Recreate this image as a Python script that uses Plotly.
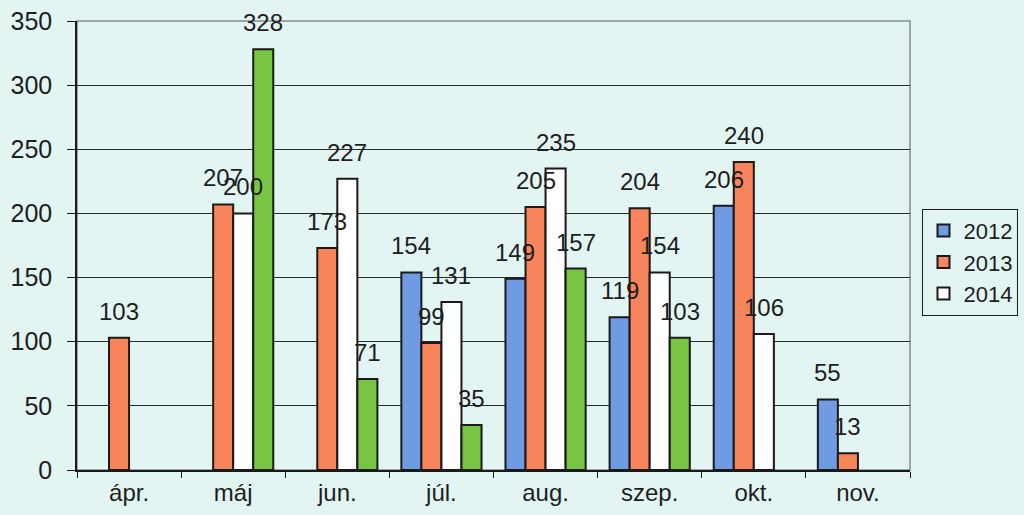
import plotly.graph_objects as go

months = ["ápr.", "máj", "jun.", "júl.", "aug.", "szep.", "okt.", "nov."]
v2012 = [None, None, None, 154, 149, 119, 206, 55]
v2013 = [103, 207, 173, 99, 205, 204, 240, 13]
v2014 = [None, 200, 227, 131, 235, 154, 106, None]
v2015 = [None, 328, 71, 35, 157, 103, None, None]

series = [
    ("2012", v2012, "#6f9be3", True),
    ("2013", v2013, "#f7845a", True),
    ("2014", v2014, "#ffffff", True),
    ("2015", v2015, "#78c544", False),
]

FONT = "Liberation Sans, Arial, sans-serif"
W, H = 1024, 515
ML, MR, MT, MB = 77, 114, 21, 45
BARGAP = 0.23

fig = go.Figure()
for name, vals, color, show in series:
    fig.add_trace(go.Bar(
        name=name, x=months, y=vals,
        marker=dict(color=color, line=dict(color="#1a1a1a", width=2)),
        showlegend=show,
    ))

# data labels placed above each bar, offset to its slot within the group
cat_px = (W - ML - MR) / len(months)
bar_px = cat_px * (1 - BARGAP) / len(series)
annotations = []
for i, (name, vals, color, show) in enumerate(series):
    xs = (i - (len(series) - 1) / 2) * bar_px
    for m, v in zip(months, vals):
        if v is None:
            continue
        annotations.append(dict(
            x=m, y=v, xref="x", yref="y", text=str(v), showarrow=False,
            xshift=xs, yshift=11, yanchor="bottom",
            font=dict(family=FONT, size=24, color="#1e1e1e"),
        ))

bg = "#e3f5f3"
fig.update_layout(
    width=W, height=H,
    margin=dict(l=ML, r=MR, t=MT, b=MB, autoexpand=False),
    paper_bgcolor=bg, plot_bgcolor=bg,
    barmode="group", bargap=BARGAP, bargroupgap=0,
    font=dict(family=FONT, size=22, color="#1e1e1e"),
    annotations=annotations,
    legend=dict(
        x=1.015, y=0.463, xanchor="left", yanchor="middle",
        bordercolor="#1a1a1a", borderwidth=1, bgcolor=bg,
        font=dict(family=FONT, size=22, color="#1e1e1e"),
        itemwidth=30, tracegroupgap=0,
    ),
    xaxis=dict(
        showline=True, linecolor="#1a1a1a", linewidth=1.5,
        ticks="outside", tickson="boundaries", ticklen=6, tickcolor="#1a1a1a",
        tickfont=dict(family=FONT, size=24, color="#1e1e1e"),
        showgrid=False,
    ),
    yaxis=dict(
        range=[0, 350], dtick=50,
        showline=True, linecolor="#1a1a1a", linewidth=1.5,
        ticks="outside", ticklen=8, tickcolor="#1a1a1a",
        ticklabelstandoff=10,
        tickfont=dict(family=FONT, size=25, color="#1e1e1e"),
        showgrid=True, gridcolor="#2a2a2a", gridwidth=1,
        zeroline=False,
    ),
    shapes=[dict(type="rect", xref="paper", yref="paper", x0=0, x1=1, y0=0, y1=1,
                 line=dict(color="#8a8a8a", width=1.5), layer="below")],
)

fig.write_html("out.html", post_script="document.body.style.margin='0';",
               config={"displayModeBar": False})
